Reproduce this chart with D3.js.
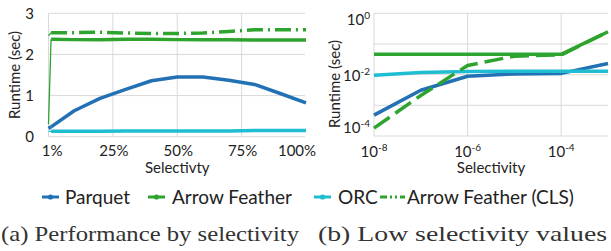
<!DOCTYPE html>
<html><head><meta charset="utf-8">
<script src="https://cdn.jsdelivr.net/npm/d3@7"></script>
<style>
html,body{margin:0;padding:0;background:#fff;}
svg{display:block;}
text{font-family:Lato,"Open Sans",sans-serif;fill:#222;}
</style></head>
<body>
<svg id="c" width="611" height="251"></svg>
<script>
// ---------- data ----------
const seriesNames = ["Parquet","Arrow Feather","ORC","Arrow Feather (CLS)"];
const colors = ["#2371b5","#2ea32e","#1fbdd2","#2ea32e"];

// (a) Performance by selectivity (selectivity in %)
const selA = [0, 1, 10, 20, 30, 40, 50, 60, 70, 80, 90, 100];
const parquetA = [0.2, 0.24, 0.63, 0.93, 1.15, 1.36, 1.45, 1.45, 1.37, 1.27, 1.05, 0.82];
const featherA = [0.3, 2.37, 2.36, 2.36, 2.37, 2.37, 2.36, 2.36, 2.36, 2.35, 2.35, 2.35];
const orcA     = [0.13, 0.13, 0.13, 0.13, 0.14, 0.14, 0.14, 0.14, 0.14, 0.15, 0.15, 0.15];
const clsA     = [2.45, 2.53, 2.53, 2.54, 2.52, 2.51, 2.51, 2.52, 2.56, 2.6, 2.6, 2.6];
const xTicksA = [1, 25, 50, 75, 100];
const xTickLabelsA = ["1%","25%","50%","75%","100%"];
const yTicksA = [0, 1, 2, 3];

// (b) Low selectivity values
const selB = [1e-8, 1e-7, 1e-6, 1e-5, 1e-4, 1e-3];
const parquetB = [4.8e-4, 3.1e-3, 8.9e-3, 1.05e-2, 1.1e-2, 2.3e-2];
const featherB = [0.046, 0.046, 0.046, 0.046, 0.046, 0.25];
const orcB     = [9.5e-3, 1.17e-2, 1.26e-2, 1.29e-2, 1.29e-2, 1.29e-2];
const clsB     = [1.8e-4, 2.1e-3, 2.0e-2, 4.0e-2, 4.4e-2, 0.25];
const xTicksB = [1e-8, 1e-6, 1e-4];
const xTickExpB = ["-8","-6","-4"];
const yGridB = [1e-4, 1e-3, 1e-2, 1e-1, 1];
const yTicksB = [1e-4, 1e-2, 1];
const yTickExpB = ["-4","-2","0"];

const captions = ["(a) Performance by selectivity","(b) Low selectivity values"];

// ---------- drawing ----------
const svg = d3.select("#c");
const grid = "#d9d9d9";
const dashes = [null, null, null, "16,5,2,5"];

// Panel A
const xA = d3.scaleLinear([0,100],[48.5,306]);
const yA = d3.scaleLinear([0,3],[136.7,13.3]);
const gA = svg.append("g");
gA.selectAll("line.h").data(yTicksA).join("line")
  .attr("x1",xA(0)).attr("x2",xA(100)-1).attr("y1",d=>yA(d)).attr("y2",d=>yA(d))
  .attr("stroke",grid).attr("stroke-width",1);
gA.selectAll("line.v").data([0,25,50,75]).join("line")
  .attr("x1",d=>xA(d)).attr("x2",d=>xA(d)).attr("y1",yA(3)).attr("y2",yA(0))
  .attr("stroke",grid).attr("stroke-width",1);
gA.selectAll("text.yt").data(yTicksA).join("text")
  .attr("x",34).attr("y",d=>yA(d)+5.5).attr("text-anchor","end")
  .style("font-size","15px").text(d=>d);
gA.selectAll("text.xt").data(xTicksA).join("text")
  .attr("x",(d,i)=> i===4 ? xA(d)-9 : xA(d)+1).attr("y",155.5).attr("text-anchor","middle")
  .style("font-size","15px").text((d,i)=>xTickLabelsA[i]);
gA.append("text").attr("x",(xA(0)+xA(100))/2).attr("y",173)
  .attr("text-anchor","middle").style("font-size","15px").text("Selectivty");
gA.append("text").attr("transform","translate(20,75) rotate(-90)")
  .attr("text-anchor","middle").style("font-size","15px").text("Runtime (sec)");

const seriesA = [parquetA, featherA, orcA, clsA];
const lineA = d3.line().x(d=>xA(d[0])).y(d=>yA(d[1]));
seriesA.forEach((s,k)=>{
  const pts = s.map((v,i)=>[selA[i],v]);
  // steep start segment (near-zero selectivity) drawn thin
  gA.append("path").attr("d",lineA(pts.slice(0,2))).attr("fill","none")
    .attr("stroke",colors[k]).attr("stroke-width",k===0?3.5:1.3);
  gA.append("path").attr("d",lineA(pts.slice(1))).attr("fill","none")
    .attr("stroke",colors[k]).attr("stroke-width",3.5)
    .attr("stroke-linejoin","round")
    .attr("stroke-dasharray",dashes[k]);
});

// Panel B
const xB = d3.scaleLog([1e-8,1e-3],[374,608]);
const yB = d3.scaleLog([1e-4,1],[136,13.3]);
const gB = svg.append("g");
gB.selectAll("line.h").data(yGridB).join("line")
  .attr("x1",xB(1e-8)).attr("x2",xB(1e-3)).attr("y1",d=>yB(d)).attr("y2",d=>yB(d))
  .attr("stroke",grid).attr("stroke-width",1);
gB.selectAll("line.v").data(xTicksB).join("line")
  .attr("x1",d=>xB(d)).attr("x2",d=>xB(d)).attr("y1",yB(1)).attr("y2",yB(1e-4))
  .attr("stroke",grid).attr("stroke-width",1);
const ytB = gB.selectAll("text.yt").data(yTicksB).join("text")
  .attr("x",370).attr("y",d=>Math.max(yB(1)+12, Math.min(yB(d)+6, yB(1e-4)-3)))
  .attr("text-anchor","end").style("font-size","15px");
ytB.append("tspan").text("10");
ytB.append("tspan").attr("dy",-6).style("font-size","10px").text((d,i)=>yTickExpB[i]);
const xtB = gB.selectAll("text.xt").data(xTicksB).join("text")
  .attr("x",d=>xB(d)).attr("y",157).attr("text-anchor","middle").style("font-size","15px");
xtB.append("tspan").text("10");
xtB.append("tspan").attr("dy",-6).style("font-size","10px").text((d,i)=>xTickExpB[i]);
gB.append("text").attr("x",(xB(1e-8)+xB(1e-3))/2).attr("y",173)
  .attr("text-anchor","middle").style("font-size","15px").text("Selectivity");
gB.append("text").attr("transform","translate(340,84) rotate(-90)")
  .attr("text-anchor","middle").style("font-size","15px").text("Runtime (sec)");

const seriesB = [parquetB, featherB, orcB, clsB];
const lineB = d3.line().x((d,i)=>xB(selB[i])).y(d=>yB(d));
seriesB.forEach((s,k)=>{
  gB.append("path").attr("d",lineB(s)).attr("fill","none")
    .attr("stroke",colors[k]).attr("stroke-width",3.5)
    .attr("stroke-linejoin","round")
    .attr("stroke-dasharray",k===3 ? "19,7" : null);
});

// Legend
const legX = [[42,65],[148,172],[314,338],[380,407]];
const lg = svg.append("g");
seriesNames.forEach((n,k)=>{
  const [mx,tx] = legX[k];
  const w = k===3 ? 25 : 17;
  lg.append("line").attr("x1",mx).attr("x2",mx+w).attr("y1",197).attr("y2",197)
    .attr("stroke",colors[k]).attr("stroke-width",3)
    .attr("stroke-dasharray",k===3 ? "7,3,2,3,2,3" : null);
  if(k<3) lg.append("circle").attr("cx",mx+w/2).attr("cy",197).attr("r",2.6).attr("fill",colors[k]);
  lg.append("text").attr("x",tx).attr("y",203.5).style("font-size","19px").text(n);
});

// Captions
const capX = [[1,299],[318,607]];
captions.forEach((c,i)=>{
  svg.append("text").attr("x",capX[i][0]).attr("y",241)
    .attr("textLength",capX[i][1]-capX[i][0]).attr("lengthAdjust","spacingAndGlyphs")
    .style("font-family","'Liberation Serif','DejaVu Serif',serif").style("font-size","21px")
    .style("fill","#333")
    .text(c);
});
</script>
</body></html>
